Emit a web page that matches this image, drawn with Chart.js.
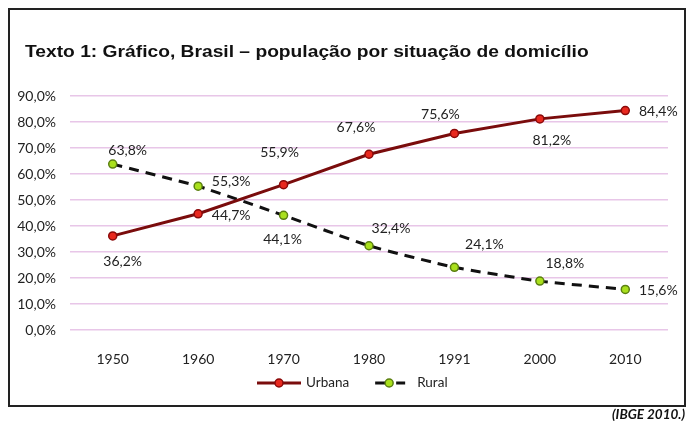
<!DOCTYPE html>
<html>
<head>
<meta charset="utf-8">
<title>Brasil - população por situação de domicílio</title>
<script src="https://cdn.jsdelivr.net/npm/chart.js@4.4.1/dist/chart.umd.min.js"></script>
<style>
  html, body { margin: 0; padding: 0; background: #fff; }
  body { width: 686px; height: 421px; position: relative; overflow: hidden; }
  #frame { position: absolute; left: 8px; top: 8px; width: 674px; height: 395px; border: 2px solid #222; }
  #title { position: absolute; left: 25px; top: 42px; font: bold 16.5px "Liberation Sans", Arial, sans-serif; color: #111; white-space: nowrap; transform: scaleX(1.165); transform-origin: 0 0; }
  #source { position: absolute; left: 612px; top: 406px; font: italic bold 13.5px Lato, sans-serif; color: #111; white-space: nowrap; }
  #wrap { position: absolute; left: 0; top: 0; width: 686px; height: 421px; }
</style>
</head>
<body>
<div id="frame"></div>
<div id="wrap"><canvas id="chart" width="686" height="421"></canvas></div>
<div id="title">Texto 1: Gráfico, Brasil – população por situação de domicílio</div>
<div id="source">(IBGE 2010.)</div>
<script>
const years = ['1950', '1960', '1970', '1980', '1991', '2000', '2010'];
const urbana = [36.2, 44.7, 55.9, 67.6, 75.6, 81.2, 84.4];
const rural = [63.8, 55.3, 44.1, 32.4, 24.1, 18.8, 15.6];
const yTicks = [0, 10, 20, 30, 40, 50, 60, 70, 80, 90];

// where each value label sits relative to its point (dx, dy)
const urbanaLabelPos = [[10, 26], [33, 2], [-4, -32], [-13, -27], [-14, -19], [12, 22], [33, 1]];
const ruralLabelPos = [[15, -14], [33, -5], [-1, 24], [22, -17], [30, -23], [25, -18], [33, 1]];

const fmt = v => v.toFixed(1).replace('.', ',') + '%';

const valueLabels = {
  id: 'valueLabels',
  afterDatasetsDraw(chart) {
    const ctx = chart.ctx;
    const offs = [urbanaLabelPos, ruralLabelPos];
    ctx.save();
    ctx.font = '14px Lato, sans-serif';
    ctx.fillStyle = '#222';
    ctx.textAlign = 'center';
    ctx.textBaseline = 'middle';
    chart.data.datasets.forEach((ds, i) => {
      chart.getDatasetMeta(i).data.forEach((pt, j) => {
        const o = offs[i][j];
        ctx.fillText(fmt(ds.data[j]), pt.x + o[0], pt.y + o[1]);
      });
    });
    ctx.restore();
  }
};

// legend with line + marker like the original
const lineLegend = {
  id: 'lineLegend',
  afterDraw(chart) {
    const ctx = chart.ctx;
    const y = 383;
    let x = 257;
    ctx.save();
    ctx.font = '13.5px Lato, sans-serif';
    ctx.textBaseline = 'middle';
    chart.data.datasets.forEach((ds, i) => {
      ctx.strokeStyle = ds.borderColor;
      ctx.lineWidth = 3;
      if (ds.borderDash) {
        ctx.beginPath();
        ctx.moveTo(x + 9, y); ctx.lineTo(x + 23, y);
        ctx.moveTo(x + 30, y); ctx.lineTo(x + 39, y);
        ctx.stroke();
        ctx.beginPath();
        ctx.arc(x + 23, y, 4, 0, Math.PI * 2);
      } else {
        ctx.beginPath();
        ctx.moveTo(x, y); ctx.lineTo(x + 44, y);
        ctx.stroke();
        ctx.beginPath();
        ctx.arc(x + 22, y, 4, 0, Math.PI * 2);
      }
      ctx.fillStyle = ds.pointBackgroundColor;
      ctx.fill();
      ctx.lineWidth = 1.5;
      ctx.strokeStyle = ds.pointBorderColor;
      ctx.stroke();
      const tx = x + (ds.borderDash ? 51 : 49);
      ctx.fillStyle = '#222';
      ctx.fillText(ds.label, tx, y);
      x = tx + ctx.measureText(ds.label).width + 17;
    });
    ctx.restore();
  }
};

new Chart(document.getElementById('chart'), {
  type: 'line',
  data: {
    labels: years,
    datasets: [
      {
        label: 'Urbana',
        data: urbana,
        borderColor: '#7a0c0c',
        borderWidth: 3,
        pointBackgroundColor: '#e8291f',
        pointBorderColor: '#8b0a0a',
        pointBorderWidth: 1.5,
        pointRadius: 4,
        tension: 0
      },
      {
        label: 'Rural',
        data: rural,
        borderColor: '#111111',
        borderWidth: 3,
        borderDash: [10, 7],
        pointBackgroundColor: '#a9e01c',
        pointBorderColor: '#5c8012',
        pointBorderWidth: 1.5,
        pointRadius: 4,
        tension: 0.15
      }
    ]
  },
  options: {
    responsive: false,
    animation: false,
    layout: { padding: { left: 8, right: 18, top: 96, bottom: 51 } },
    plugins: {
      legend: { display: false },
      title: { display: false },
      tooltip: { enabled: false }
    },
    scales: {
      x: {
        offset: true,
        grid: { display: false },
        border: { display: false },
        ticks: { padding: 13, color: '#222', font: { family: 'Lato', size: 14 } },
        afterFit(scale) { scale.height = 40; }
      },
      y: {
        min: yTicks[0],
        max: yTicks[yTicks.length - 1],
        afterBuildTicks(scale) { scale.ticks = yTicks.map(v => ({ value: v })); },
        grid: { color: '#e8c6e8', lineWidth: 1.5, drawTicks: false },
        border: { display: false },
        ticks: {
          padding: 14,
          color: '#222',
          font: { family: 'Lato', size: 14 },
          callback: v => v.toFixed(1).replace('.', ',') + '%'
        },
        afterFit(scale) { scale.width = 62; }
      }
    }
  },
  plugins: [valueLabels, lineLegend]
});
</script>
</body>
</html>
